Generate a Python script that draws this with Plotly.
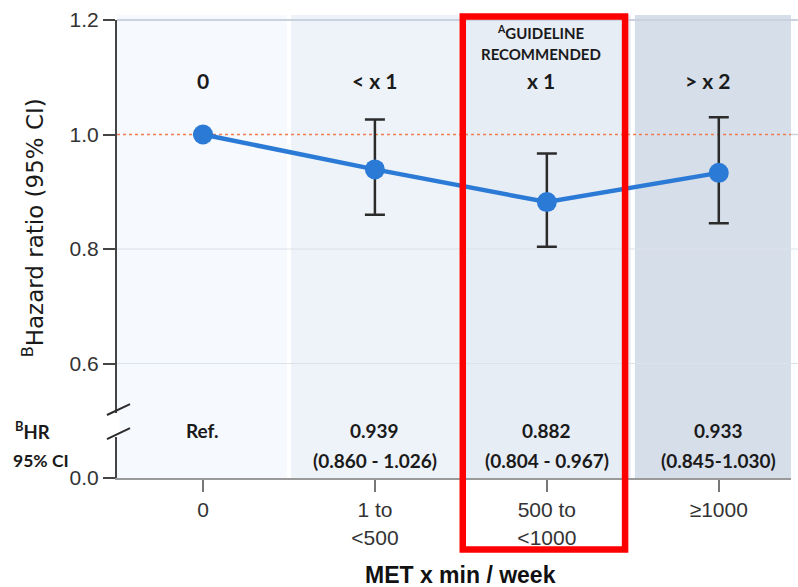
import plotly.graph_objects as go

# Physical activity groups (MET x min / week) and hazard ratios with 95% CI
categories = ["0", "1 to<br><500", "500 to<br><1000", "≥1000"]
dose_labels = ["0", "< x 1", "x 1", "> x 2"]
hr = [1.0, 0.939, 0.882, 0.933]
ci_low = [None, 0.860, 0.804, 0.845]
ci_high = [None, 1.026, 0.967, 1.030]
hr_text = ["Ref.", "0.939", "0.882", "0.933"]
ci_text = ["", "(0.860 - 1.026)", "(0.804 - 0.967)", "(0.845-1.030)"]

# broken y axis: the lowest tick (0.0) sits where 0.4 would be
y_tickvals = [0.4, 0.6, 0.8, 1.0, 1.2]
y_ticktext = ["0.0", "0.6", "0.8", "1.0", "1.2"]
Y_MIN, Y_MAX = 0.4, 1.2
X_MIN, X_MAX = -0.5, 3.42

band_colors = ["#f6f9fd", "#eef3f9", "#e7edf5", "#d6dee9"]
dose_label_shift = [0, 0, -6, -11]   # px nudges for the headers above each band

x = list(range(len(categories)))
err_plus = [None if h is None else round(h - v, 3) for h, v in zip(ci_high, hr)]
err_minus = [None if l is None else round(v - l, 3) for l, v in zip(ci_low, hr)]

AX_FONT = "Liberation Sans, Arial, sans-serif"
LBL_FONT = "Lato, Carlito, Calibri, sans-serif"
TXT = "#1a1a1a"


def ypaper(v):
    return (v - Y_MIN) / (Y_MAX - Y_MIN)


fig = go.Figure()
fig.add_trace(go.Scatter(
    x=x, y=hr, mode="lines+markers",
    line=dict(color="#2b7bd6", width=4.5),
    marker=dict(color="#2b7bd6", size=20),
    error_y=dict(type="data", symmetric=False, array=err_plus, arrayminus=err_minus,
                 color="#2b2b2b", thickness=2.5, width=10),
    showlegend=False, hoverinfo="skip",
))

shapes = []
# shaded category bands with thin white separators
for i, c in enumerate(band_colors):
    x0 = X_MIN if i == 0 else i - 0.5 + 0.012
    x1 = X_MAX if i == len(band_colors) - 1 else i + 0.5 - 0.012
    shapes.append(dict(type="rect", xref="x", yref="paper", x0=x0, x1=x1, y0=0, y1=1.011,
                       fillcolor=c, line=dict(width=0), layer="below"))

# light horizontal grid
for v, col, w in [(1.2, "#c9d2de", 2), (0.8, "#dce2ea", 1.2), (0.6, "#dce2ea", 1.2)]:
    shapes.append(dict(type="line", xref="paper", yref="paper", x0=0, x1=1.012,
                       y0=ypaper(v), y1=ypaper(v), line=dict(color=col, width=w), layer="below"))
shapes.append(dict(type="line", xref="paper", yref="paper", x0=1.0, x1=1.012,
                   y0=ypaper(1.0), y1=ypaper(1.0), line=dict(color="#c9d2de", width=1.5)))

# reference line at HR = 1
shapes.append(dict(type="line", xref="paper", yref="paper", x0=0, x1=1,
                   y0=ypaper(1.0), y1=ypaper(1.0),
                   line=dict(color="#ee7d52", width=1.3, dash="dot"), layer="between"))

# axis break marks
shapes.append(dict(type="rect", xref="paper", yref="paper", x0=-0.006, x1=0.004,
                   y0=ypaper(0.4716), y1=ypaper(0.5135), fillcolor="white", line=dict(width=0)))
for y0, y1 in [(0.510, 0.529), (0.468, 0.487)]:
    shapes.append(dict(type="line", xref="paper", yref="paper", x0=-0.0149, x1=0.0193,
                       y0=ypaper(y0), y1=ypaper(y1), line=dict(color="#2b2b2b", width=2)))

# highlight of the guideline-recommended group
shapes.append(dict(type="rect", xref="x", yref="paper", x0=1.511, x1=2.455,
                   y0=-0.156, y1=1.0077, line=dict(color="#ff0000", width=6.5),
                   fillcolor="rgba(0,0,0,0)", layer="above"))

annotations = []
for xi, t, dx in zip(x, dose_labels, dose_label_shift):
    annotations.append(dict(x=xi, y=1.095, xref="x", yref="y", xshift=dx, text=f"<b>{t}</b>",
                            showarrow=False, font=dict(family=LBL_FONT, size=21, color=TXT)))
annotations.append(dict(x=2, y=1.179, xref="x", yref="y", xshift=-6,
                        text="<b><sup>A</sup>GUIDELINE</b>",
                        showarrow=False, font=dict(family=LBL_FONT, size=15, color=TXT)))
annotations.append(dict(x=2, y=1.141, xref="x", yref="y", xshift=-6, text="<b>RECOMMENDED</b>",
                        showarrow=False, font=dict(family=LBL_FONT, size=15, color=TXT)))

for xi, t1, t2 in zip(x, hr_text, ci_text):
    annotations.append(dict(x=xi, y=0.4838, xref="x", yref="y", text=f"<b>{t1}</b>",
                            showarrow=False, font=dict(family=LBL_FONT, size=19, color=TXT)))
    if t2:
        annotations.append(dict(x=xi, y=0.4314, xref="x", yref="y", text=f"<b>{t2}</b>",
                                showarrow=False, font=dict(family=LBL_FONT, size=19, color=TXT)))

annotations.append(dict(x=-0.155, y=0.4838, xref="paper", yref="y", xanchor="left",
                        text="<b><sup>B</sup>HR</b>", showarrow=False,
                        font=dict(family=LBL_FONT, size=18.5, color=TXT)))
annotations.append(dict(x=-0.157, y=0.4314, xref="paper", yref="y", xanchor="left",
                        text="<b>95% CI</b>", showarrow=False,
                        font=dict(family=LBL_FONT, size=17.5, color=TXT)))

# axis titles
annotations.append(dict(x=-0.124, y=0.546, xref="paper", yref="paper", textangle=-90,
                        xanchor="center", yanchor="middle",
                        text="<sup>B</sup>Hazard ratio (95% CI)", showarrow=False,
                        font=dict(family="DejaVu Sans, sans-serif", size=23, color=TXT)))
annotations.append(dict(x=0.51, y=-0.212, xref="paper", yref="paper",
                        xanchor="center", yanchor="middle",
                        text="<b>MET x min / week</b>", showarrow=False,
                        font=dict(family=AX_FONT, size=23, color="#111111")))

fig.update_layout(
    width=798, height=587,
    margin=dict(l=117, r=7, t=20, b=109),
    paper_bgcolor="white", plot_bgcolor="rgba(0,0,0,0)",
    shapes=shapes, annotations=annotations,
    xaxis=dict(range=[X_MIN, X_MAX], tickvals=x, ticktext=categories,
               showgrid=False, zeroline=False, showline=True, linecolor="#9a9a9a", linewidth=2,
               ticks="outside", ticklen=12, tickwidth=2, tickcolor="#777777",
               tickfont=dict(family=AX_FONT, size=21, color="#333333")),
    yaxis=dict(range=[Y_MIN, Y_MAX], tickvals=y_tickvals, ticktext=y_ticktext,
               showgrid=False, zeroline=False, showline=True, linecolor="#444444", linewidth=2,
               ticks="outside", ticklen=12, tickwidth=2, tickcolor="#444444",
               tickfont=dict(family=AX_FONT, size=21, color="#333333")),
)

fig.write_html("out.html")
